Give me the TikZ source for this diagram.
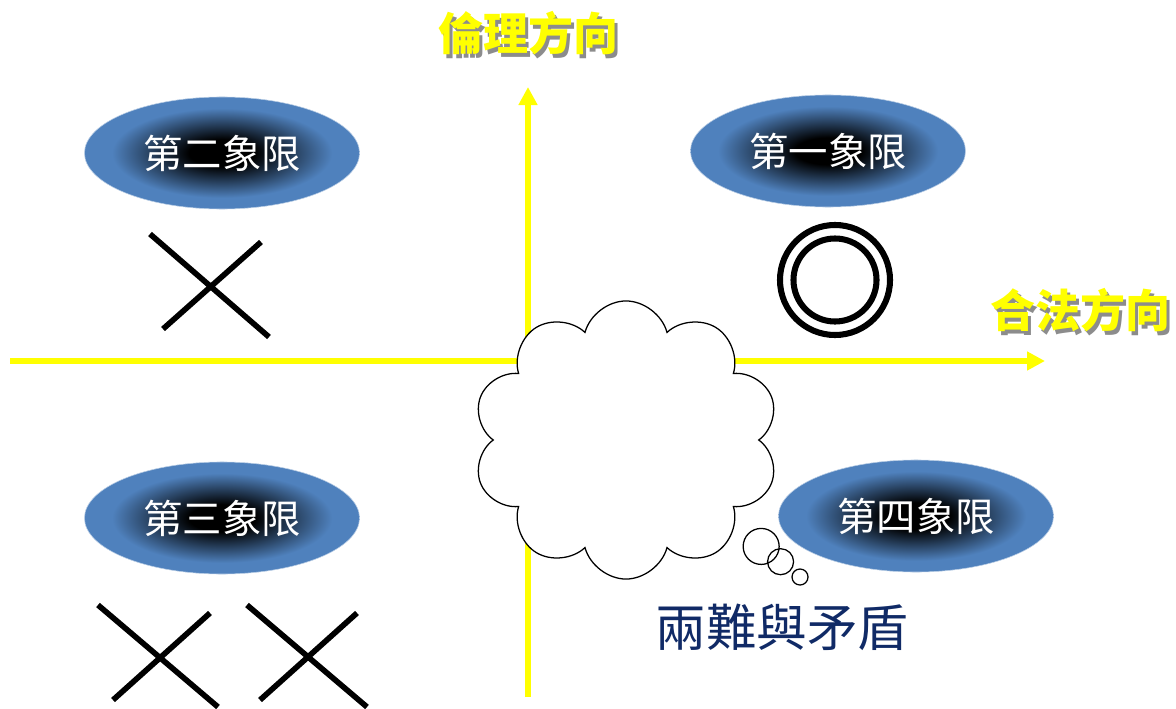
\documentclass[tikz,border=0pt]{standalone}
\usepackage{fontspec}
\usepackage{xcolor}
\usepackage{tikz}
\usetikzlibrary{shapes.geometric, shapes.symbols, shapes.callouts, arrows.meta, positioning}
\newfontfamily\cjk{Noto Sans CJK TC}
\definecolor{qblue}{RGB}{79,129,189}
\definecolor{navy}{RGB}{16,42,102}
\definecolor{axisyellow}{RGB}{255,255,0}
\pgfdeclareradialshading{quadshade}{\pgfpoint{0bp}{0bp}}{color(0bp)=(black); color(6bp)=(black); color(20bp)=(qblue); color(25bp)=(qblue); color(50bp)=(qblue)}
\newcommand{\shadowed}[1]{\makebox[0pt][l]{\hspace{2.5pt}\raisebox{-2.5pt}{\color{black!45}#1}}#1}

\begin{document}
\begin{tikzpicture}[
			x=0.025cm, y=-0.025cm,
			axisline/.style={draw=axisyellow, line width=4.3pt, -{Triangle[length=0.45cm, width=0.45cm]}},
			quadrant/.style={ellipse, shading=quadshade, draw=white!60!qblue, line width=0.4pt, minimum width=6.875cm, minimum height=2.8cm, inner sep=0pt, text=white, font=\cjk\fontsize{28}{30}\selectfont},
			direction/.style={text=axisyellow, inner sep=0pt, font=\cjk\bfseries\fontsize{32}{34}\selectfont},
			xmark/.style={line width=4pt},
			ring/.style={circle, draw, line width=4.3pt, inner sep=0pt},
			thought/.style={cloud callout, cloud puffs=10, aspect=1.1, draw, fill=white, line width=0.9pt, minimum width=7.65cm, minimum height=6.95cm, callout pointer segments=3, callout pointer start size=1.15cm, callout pointer end size=0.4cm}
			]
			\useasboundingbox (0,0) rectangle (1176,709);
			
			% Axes
			\coordinate (west end) at (10,361);
			\coordinate (east end) at (1045,361);
			\coordinate (south end) at (528,697);
			\coordinate (north end) at (528,87);
			\draw [axisline] (west end) -- (east end);
			\draw [axisline] (south end) -- (north end);
			
			% Nodes
			\node (ethics) [direction] at (528,35) {\shadowed{倫理方向}};
			\node (legal) [direction] at (1080,312) {\shadowed{合法方向}};
			\node (dilemma) [thought, callout absolute pointer={(800,577)}] at (626,440) {};
			\node (q1) [quadrant] at (828,151) {第一象限};
			\node (q2) [quadrant] at (222,153) {第二象限};
			\node (q3) [quadrant] at (222,518) {第三象限};
			\node (q4) [quadrant] at (916,516) {第四象限};
			\node (caption) [text=navy, inner sep=0pt, font=\cjk\fontsize{36}{38}\selectfont] at (782,627) {兩難與矛盾};
			
			% Marks
			\node (ok outer) [ring, minimum size=2.75cm] at (835,280) {};
			\node (ok inner) [ring, minimum size=2.075cm] at (ok outer.center) {};
			\draw [xmark] (150,234) -- (269,337) (261,242) -- (163,329);
			\draw [xmark] (98,605) -- (218,707) (210,613) -- (113,700);
			\draw [xmark] (247,605) -- (367,707) (357,613) -- (260,700);
			
		\end{tikzpicture}
\end{document}
